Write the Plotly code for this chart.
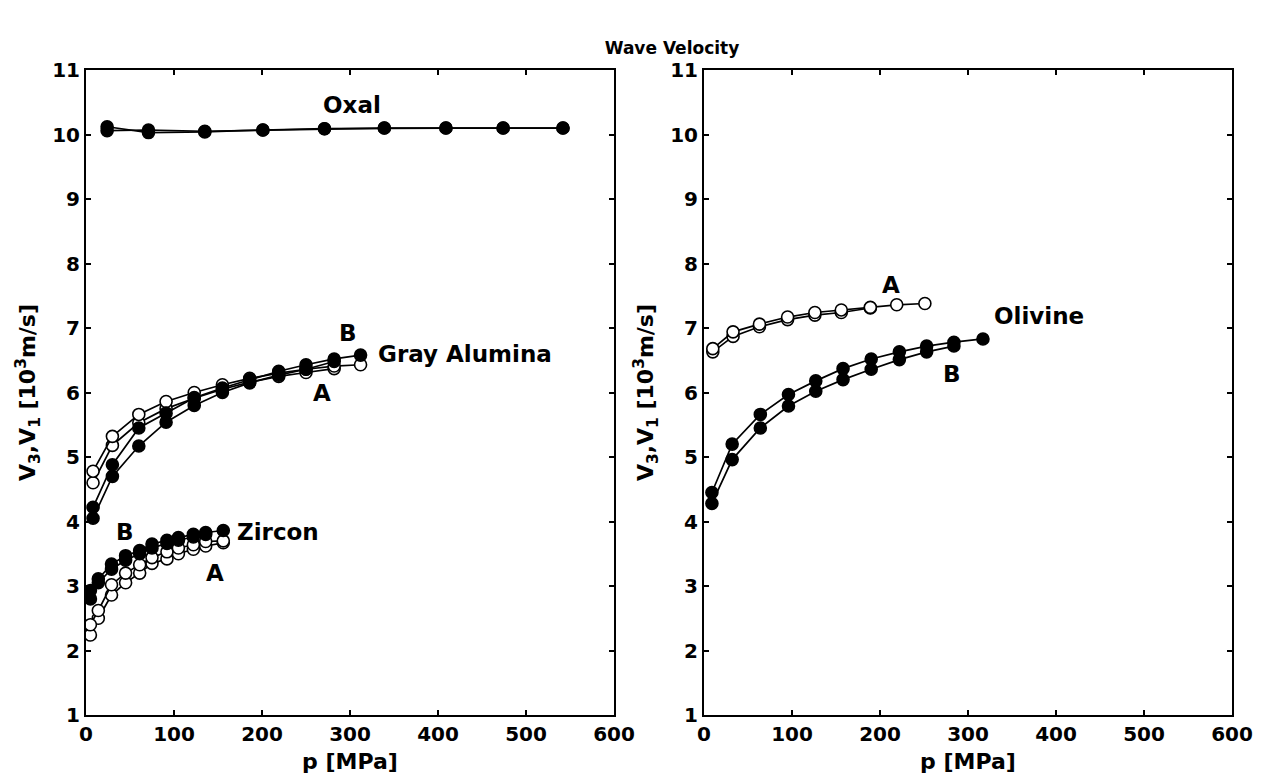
import plotly.graph_objects as go

# ---------------- data ----------------
# Left panel
oxal_p = [24, 71, 135, 201, 271, 339, 409, 474, 542]
oxal_1 = [10.12, 10.03, 10.04, 10.07, 10.09, 10.10, 10.10, 10.10, 10.10]
oxal_2 = [10.06, 10.07, 10.05, 10.07, 10.09, 10.10, 10.10, 10.10, 10.10]

gray_p = [8, 30, 60, 91, 123, 155, 186, 219, 250, 282, 312]
gray_b1 = [4.22, 4.88, 5.45, 5.68, 5.92, 6.07, 6.20, 6.33, 6.43, 6.52, 6.58]
gray_b2 = [4.05, 4.70, 5.17, 5.54, 5.80, 6.00, 6.15, 6.27, 6.36, 6.48]
gray_a1 = [4.78, 5.32, 5.66, 5.86, 6.00, 6.12, 6.22, 6.30, 6.36, 6.41, 6.43]
gray_a2 = [4.60, 5.18, 5.53, 5.75, 5.91, 6.05, 6.16, 6.25, 6.31, 6.37]

zirc_p = [5, 14, 29, 45, 61, 75, 92, 105, 122, 136, 156]
zirc_b1 = [2.93, 3.11, 3.34, 3.47, 3.55, 3.65, 3.71, 3.75, 3.80, 3.83, 3.86]
zirc_b2 = [2.80, 3.05, 3.26, 3.40, 3.50, 3.59, 3.66, 3.71, 3.76, 3.80]
zirc_a1 = [2.40, 2.62, 3.02, 3.20, 3.33, 3.44, 3.53, 3.59, 3.64, 3.69, 3.70]
zirc_a2 = [2.24, 2.50, 2.86, 3.05, 3.20, 3.35, 3.42, 3.50, 3.57, 3.62, 3.67]

# Right panel (Olivine)
oliv_a_p = [10, 33, 63, 95, 126, 156, 189, 219, 251]
oliv_a1 = [6.68, 6.94, 7.06, 7.17, 7.24, 7.28, 7.32, 7.36, 7.38]
oliv_a2 = [6.63, 6.87, 7.02, 7.13, 7.20, 7.24, 7.31]
oliv_b_p = [9, 32, 64, 96, 127, 158, 190, 222, 253, 284, 317]
oliv_b1 = [4.45, 5.20, 5.66, 5.97, 6.18, 6.37, 6.52, 6.63, 6.72, 6.78, 6.83]
oliv_b2 = [4.28, 4.96, 5.45, 5.79, 6.02, 6.20, 6.36, 6.51, 6.63, 6.72]

x_ticks = [0, 100, 200, 300, 400, 500, 600]
y_ticks = [1, 2, 3, 4, 5, 6, 7, 8, 9, 10, 11]

# annotations: (panel, text, p, v, xanchor)
labels = [
    (1, "Oxal", 302, 10.45, "center"),
    (1, "B", 298, 6.93, "center"),
    (1, "Gray Alumina", 330, 6.59, "left"),
    (1, "A", 268, 6.0, "center"),
    (1, "B", 44, 3.83, "center"),
    (1, "Zircon", 169, 3.83, "left"),
    (1, "A", 147, 3.2, "center"),
    (2, "A", 212, 7.67, "center"),
    (2, "Olivine", 327, 7.18, "left"),
    (2, "B", 282, 6.28, "center"),
]

FONT = "DejaVu Sans, Liberation Sans, Arial, sans-serif"

fig = go.Figure()


def add_series(x, y, filled, axis):
    xa = "x" if axis == 1 else "x2"
    ya = "y" if axis == 1 else "y2"
    fig.add_trace(go.Scatter(
        x=x[:len(y)], y=y, mode="lines+markers", xaxis=xa, yaxis=ya,
        line=dict(color="black", width=1.7),
        marker=dict(size=12, symbol="circle",
                    color="black" if filled else "white",
                    line=dict(color="black", width=1.6)),
        showlegend=False, hoverinfo="skip"))


add_series(oxal_p, oxal_1, True, 1)
add_series(oxal_p, oxal_2, True, 1)
add_series(gray_p, gray_a2, False, 1)
add_series(gray_p, gray_a1, False, 1)
add_series(gray_p, gray_b2, True, 1)
add_series(gray_p, gray_b1, True, 1)
add_series(zirc_p, zirc_a2, False, 1)
add_series(zirc_p, zirc_a1, False, 1)
add_series(zirc_p, zirc_b2, True, 1)
add_series(zirc_p, zirc_b1, True, 1)
add_series(oliv_a_p, oliv_a2, False, 2)
add_series(oliv_a_p, oliv_a1, False, 2)
add_series(oliv_b_p, oliv_b2, True, 2)
add_series(oliv_b_p, oliv_b1, True, 2)

# page body has an 8px margin, so the figure is drawn 8px in from the corner
W, H = 1250, 767
ML, MR, MT, MB = 78, 26, 62, 60
inner_w = W - ML - MR
left_dom = [0, 528 / inner_w]
right_dom = [618 / inner_w, 1]

axis_common = dict(
    showline=True, linecolor="black", linewidth=2, mirror="ticks",
    ticks="inside", ticklen=5, tickwidth=1.5, tickcolor="black",
    showgrid=False, zeroline=False, automargin=False,
    tickfont=dict(family=FONT, size=20, color="black", weight="bold"),
)
ytitle = "V<sub>3</sub>,V<sub>1</sub> [10<sup>3</sup>m/s]"
xtitle = "p [MPa]"
title_font = dict(family=FONT, size=22, color="black", weight="bold")

fig.update_layout(
    width=W, height=H,
    margin=dict(l=ML, r=MR, t=MT, b=MB, autoexpand=False),
    paper_bgcolor="white", plot_bgcolor="white",
    title=dict(text="Wave Velocity", x=664 / W, xanchor="center",
               xref="container", yref="container",
               y=1 - 40 / H, yanchor="middle",
               font=dict(family=FONT, size=17, color="black", weight="bold")),
    xaxis=dict(domain=left_dom, range=[0, 600], tickvals=x_ticks, anchor="y",
               title=dict(text=xtitle, font=title_font, standoff=9), **axis_common),
    yaxis=dict(domain=[0, 1], range=[1, 11], tickvals=y_ticks, anchor="x",
               title=dict(text=ytitle, font=title_font, standoff=10), **axis_common),
    xaxis2=dict(domain=right_dom, range=[0, 600], tickvals=x_ticks, anchor="y2",
                title=dict(text=xtitle, font=title_font, standoff=9), **axis_common),
    yaxis2=dict(domain=[0, 1], range=[1, 11], tickvals=y_ticks, anchor="x2",
                title=dict(text=ytitle, font=title_font, standoff=10), **axis_common),
)

for panel, text, px, pv, xanchor in labels:
    fig.add_annotation(
        x=px, y=pv, xref="x" if panel == 1 else "x2", yref="y" if panel == 1 else "y2",
        text=text, showarrow=False, xanchor=xanchor, yanchor="middle",
        font=dict(family=FONT, size=23, color="black", weight="bold"))

fig.write_html("out.html")
